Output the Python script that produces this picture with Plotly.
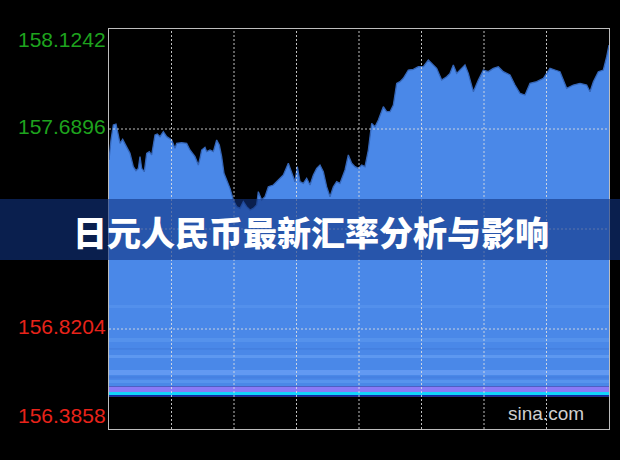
import plotly.graph_objects as go

# ---- data ----
minutes = [0, 6, 13, 21, 28, 33, 41, 48, 63, 73, 81, 88, 93, 98, 106, 113, 121, 128, 133, 138,
           145, 153, 163, 173, 188, 198, 203, 218, 233, 243, 258, 268, 273, 278, 288, 293, 303, 313,
           323, 331, 338, 345, 353, 363, 373, 383, 393, 403, 413, 423, 433, 443, 448, 458, 468, 478,
           493, 508, 523, 538, 548, 558, 565, 573, 583, 593, 603, 613, 623, 633, 643, 653, 663, 673,
           683, 693, 708, 718, 728, 738, 748, 758, 768, 778, 788, 798, 808, 815, 823, 833, 843, 853,
           863, 873, 883, 898, 913, 928, 943, 958, 973, 983, 998, 1013, 1023, 1033, 1043, 1053, 1068,
           1078, 1093, 1108, 1123, 1138, 1153, 1168, 1183, 1203, 1218, 1233, 1248, 1263, 1283, 1303,
           1323, 1338, 1353, 1373, 1393, 1413, 1433, 1443, 1453, 1468, 1483, 1493, 1500]
rates = [157.5548, 157.6418, 157.7070, 157.7113, 157.6635, 157.6273, 157.6447, 157.6273, 157.5838,
         157.5259, 157.5085, 157.5186, 157.5693, 157.5186, 157.5041, 157.5838, 157.5911, 157.5766,
         157.6200, 157.6635, 157.6678, 157.6563, 157.6780, 157.6563, 157.6418, 157.6055, 157.6273,
         157.6302, 157.6273, 157.5983, 157.5693, 157.5331, 157.5621, 157.5983, 157.6099, 157.5911,
         157.5983, 157.5911, 157.6418, 157.6200, 157.5693, 157.4969, 157.4679, 157.4317, 157.3810,
         157.3521, 157.3448, 157.3738, 157.3521, 157.3376, 157.3448, 157.3593, 157.4172, 157.3810,
         157.3955, 157.4389, 157.4462, 157.4679, 157.4897, 157.5404, 157.4969, 157.4607, 157.5259,
         157.4607, 157.4534, 157.4752, 157.4462, 157.4897, 157.5186, 157.5331, 157.5041, 157.4389,
         157.3955, 157.4389, 157.4607, 157.4534, 157.5114, 157.5766, 157.5404, 157.5259, 157.5186,
         157.5331, 157.5259, 157.5983, 157.7142, 157.6997, 157.7287, 157.7577, 157.7866, 157.7649,
         157.7649, 157.7939, 157.8880, 157.8953, 157.9098, 157.9460, 157.9489, 157.9605, 157.9605,
         157.9895, 157.9677, 157.9532, 157.9025, 157.9170, 157.9315, 157.9677, 157.9315, 157.9460,
         157.9677, 157.9315, 157.8518, 157.9025, 157.9460, 157.9388, 157.9532, 157.9605, 157.9388,
         157.9243, 157.8808, 157.8446, 157.8373, 157.8880, 157.8953, 157.9098, 157.9532, 157.9460,
         157.9388, 157.8663, 157.8808, 157.8880, 157.8808, 157.8518, 157.8953, 157.9388, 157.9460,
         158.0039, 158.0546]
base_rate = 156.527
tick_values = [158.1242, 157.6896, 157.2550, 156.8204, 156.3858]
tick_labels = ["158.1242", "157.6896", "157.2550", "156.8204", "156.3858"]
prev_close = 157.2550
x_max = 1500
x_grid_step = 187.5
title_text = "日元人民币最新汇率分析与影响"
watermark = "sina.com"

fig = go.Figure()
fig.add_trace(go.Scatter(x=[minutes[0], minutes[-1]], y=[base_rate, base_rate], mode="lines",
                         line=dict(width=0, color="rgba(0,0,0,0)"), hoverinfo="skip", showlegend=False))
fig.add_trace(go.Scatter(x=minutes, y=rates, mode="lines", fill="tonexty",
                         fillcolor="#4a88e8", line=dict(color="#3566b8", width=1.3),
                         showlegend=False))

shapes = []
# horizontal texture bands near the bottom of the filled area (value ranges, colour)
bands = [
    (156.9117, 156.9247, "#5390ec"),
    (156.7639, 156.7813, "#5592ec"),
    (156.7300, 156.7380, "#4580e0"),
    (156.6944, 156.7074, "#5d98f0"),
    (156.6206, 156.6423, "#6299f2"),
    (156.6050, 156.6150, "#4680e2"),
    (156.5858, 156.5988, "#5794ee"),
    (156.5684, 156.5727, "#4f5fc4"),
    (156.5467, 156.5684, "#8a7af6"),
    (156.5336, 156.5467, "#14d4fb"),
    (base_rate, 156.5336, "#1424a4"),
]
for y0, y1, c in bands:
    shapes.append(dict(type="rect", xref="x", yref="y", x0=0, x1=x_max, y0=y0, y1=y1,
                       fillcolor=c, line=dict(width=0), layer="above"))
# dotted grid drawn above the fill
k = 1
while k * x_grid_step < x_max - 1:
    shapes.append(dict(type="line", xref="x", yref="paper", x0=k * x_grid_step, x1=k * x_grid_step,
                       y0=0, y1=1, line=dict(color="rgba(225,225,225,0.85)", width=1, dash="2px,2px"),
                       layer="above"))
    k += 1
for tv in tick_values[1:-1]:
    shapes.append(dict(type="line", xref="paper", yref="y", x0=0, x1=1, y0=tv, y1=tv,
                       line=dict(color="rgba(225,225,225,0.85)", width=1, dash="2px,2px"),
                       layer="above"))
# banner
shapes.append(dict(type="rect", xref="paper", yref="paper", x0=-0.3, x1=1.1, y0=0.4225, y1=0.575,
                   fillcolor="rgba(17,52,130,0.6)", line=dict(width=0), layer="above"))

annotations = []
shifts = [-10, 3, 3, 3, 14]
for tv, tl, sh in zip(tick_values, tick_labels, shifts):
    if tv == prev_close:
        continue
    color = "#1ea31e" if tv > prev_close else "#e8231a"
    annotations.append(dict(x=-0.002, xref="paper", y=tv, yref="y", text=tl, showarrow=False,
                            xanchor="right", yanchor="middle", yshift=sh,
                            font=dict(family="Liberation Sans, Arial", size=21, color=color)))
annotations.append(dict(x=0.404, y=0.493, xref="paper", yref="paper", text=title_text, showarrow=False,
                        xanchor="center", yanchor="middle",
                        font=dict(family="Noto Sans CJK SC", size=34, color="white", weight=900)))
annotations.append(dict(x=0.874, y=0.04, xref="paper", yref="paper", text=watermark, showarrow=False,
                        xanchor="center", yanchor="middle",
                        font=dict(family="Liberation Sans, Arial", size=19, color="#cfcfcf")))

fig.update_layout(
    width=620, height=460,
    margin=dict(l=109, r=11, t=29, b=31),
    paper_bgcolor="black", plot_bgcolor="black",
    shapes=shapes, annotations=annotations,
    xaxis=dict(range=[0, x_max], showgrid=False, zeroline=False, showticklabels=False,
               showline=True, mirror=True, linecolor="#bdbdbd", linewidth=1, ticks=""),
    yaxis=dict(range=[tick_values[-1], tick_values[0]], showgrid=False, zeroline=False,
               showticklabels=False, showline=True, mirror=True, linecolor="#bdbdbd",
               linewidth=1, ticks=""),
    showlegend=False,
)

fig.write_html("out.html", config={"displayModeBar": False})
with open("out.html", encoding="utf-8") as f:
    html = f.read()
html = html.replace("<head>", "<head><style>html,body{margin:0;padding:0;background:#000;}</style>", 1)
with open("out.html", "w", encoding="utf-8") as f:
    f.write(html)
